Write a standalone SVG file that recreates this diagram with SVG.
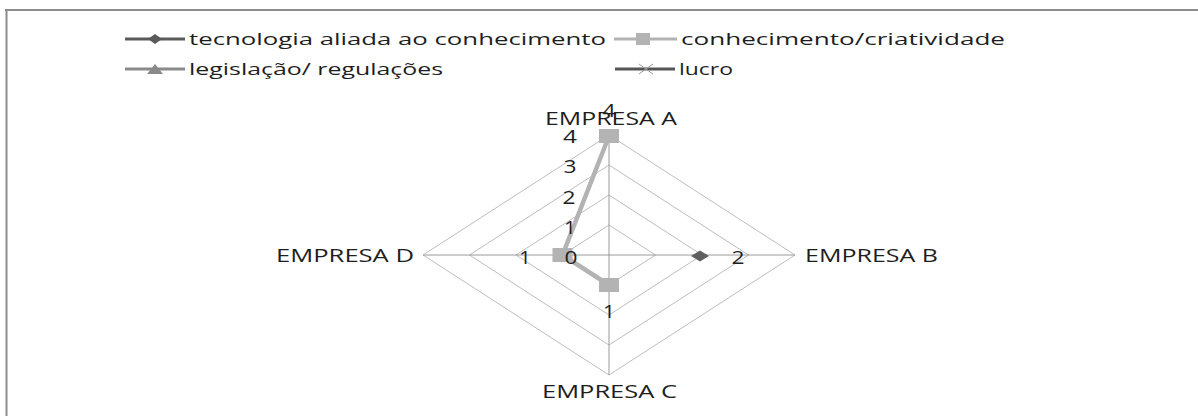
<svg xmlns="http://www.w3.org/2000/svg" width="1198" height="416" viewBox="0 0 1198 416">
<style>
  text { font-family: "Open Sans", "Liberation Sans", sans-serif; fill: #1e1e1e; }
  .leg { font-size: 17px; }
  .cat { font-size: 18px; }
  .num { font-size: 18px; text-anchor: middle; }
  .ring { fill: none; stroke: #bdbdbd; stroke-width: 1; }
  .spoke { stroke: #9a9a9a; stroke-width: 1; }
  .frame { stroke: #8c8c8c; stroke-width: 2; fill: none; }
</style>
<rect width="1198" height="416" fill="#ffffff"/>
<g id="frame">
  <line class="frame" x1="5" y1="10" x2="1198" y2="10"/>
  <line class="frame" x1="6.5" y1="9" x2="6.5" y2="416"/>
</g>
<g id="legend">
  <g id="leg-tecnologia">
    <line x1="125" y1="39" x2="185" y2="39" stroke="#5a5a5a" stroke-width="3"/>
    <polygon points="148,39 155,34 162,39 155,44" fill="#5a5a5a"/>
    <text class="leg" x="189" y="45" textLength="417" lengthAdjust="spacingAndGlyphs">tecnologia aliada ao conhecimento</text>
  </g>
  <g id="leg-conhecimento">
    <line x1="614" y1="39" x2="677" y2="39" stroke="#b3b3b3" stroke-width="3"/>
    <rect x="636" y="33" width="14" height="12" fill="#b3b3b3"/>
    <text class="leg" x="681" y="45" textLength="324" lengthAdjust="spacingAndGlyphs">conhecimento/criatividade</text>
  </g>
  <g id="leg-legislacao">
    <line x1="125" y1="69" x2="185" y2="69" stroke="#8a8a8a" stroke-width="3"/>
    <polygon points="147,74 155,64 163,74" fill="#8a8a8a"/>
    <text class="leg" x="189" y="75" textLength="254" lengthAdjust="spacingAndGlyphs">legislação/ regulações</text>
  </g>
  <g id="leg-lucro">
    <line x1="615" y1="69" x2="675" y2="69" stroke="#555555" stroke-width="3"/>
    <line x1="639" y1="64" x2="653" y2="74" stroke="#9a9a9a" stroke-width="1"/>
    <line x1="639" y1="74" x2="653" y2="64" stroke="#9a9a9a" stroke-width="1"/>
    <text class="leg" x="679" y="75" textLength="54" lengthAdjust="spacingAndGlyphs">lucro</text>
  </g>
</g>
<g id="grid">
  <polygon class="ring" points="609,225 655.5,255 609,285 562.5,255"/>
  <polygon class="ring" points="609,195 702,255 609,315 516,255"/>
  <polygon class="ring" points="609,165 748.5,255 609,345 469.5,255"/>
  <polygon class="ring" points="609,135 795,255 609,375 423,255"/>
  <line class="spoke" x1="609" y1="255" x2="609" y2="135"/>
  <line class="spoke" x1="609" y1="255" x2="795" y2="255"/>
  <line class="spoke" x1="609" y1="255" x2="609" y2="375"/>
  <line class="spoke" x1="609" y1="255" x2="423" y2="255"/>
</g>
<g id="categories">
  <text class="cat" x="545" y="125" textLength="132" lengthAdjust="spacingAndGlyphs">EMPRESA A</text>
  <text class="cat" x="805" y="262" textLength="133" lengthAdjust="spacingAndGlyphs">EMPRESA B</text>
  <text class="cat" x="542" y="398" textLength="135" lengthAdjust="spacingAndGlyphs">EMPRESA C</text>
  <text class="cat" x="276" y="262" textLength="138" lengthAdjust="spacingAndGlyphs">EMPRESA D</text>
</g>
<g id="series">
  <polyline points="609,136 562.5,255 609,285" fill="none" stroke="#b3b3b3" stroke-width="4.5" stroke-linejoin="round"/>
  <rect x="599" y="129" width="20" height="14" fill="#b3b3b3"/>
  <rect x="552.5" y="248" width="20" height="14" fill="#b3b3b3"/>
  <rect x="599" y="278" width="20" height="14" fill="#b3b3b3"/>
  <polygon points="691,256 700,250.5 709,256 700,261.5" fill="#5f5f5f"/>
</g>
<g id="values">
  <text class="num" x="609" y="117" textLength="13" lengthAdjust="spacingAndGlyphs">4</text>
  <text class="num" x="570" y="143" textLength="14" lengthAdjust="spacingAndGlyphs">4</text>
  <text class="num" x="570" y="173" textLength="13" lengthAdjust="spacingAndGlyphs">3</text>
  <text class="num" x="569" y="204" textLength="13" lengthAdjust="spacingAndGlyphs">2</text>
  <text class="num" x="570" y="234" textLength="12" lengthAdjust="spacingAndGlyphs">1</text>
  <text class="num" x="525" y="264" textLength="12" lengthAdjust="spacingAndGlyphs">1</text>
  <text class="num" x="571" y="264" textLength="13" lengthAdjust="spacingAndGlyphs">0</text>
  <text class="num" x="738" y="264" textLength="13" lengthAdjust="spacingAndGlyphs">2</text>
  <text class="num" x="609" y="318" textLength="12" lengthAdjust="spacingAndGlyphs">1</text>
</g>
</svg>
